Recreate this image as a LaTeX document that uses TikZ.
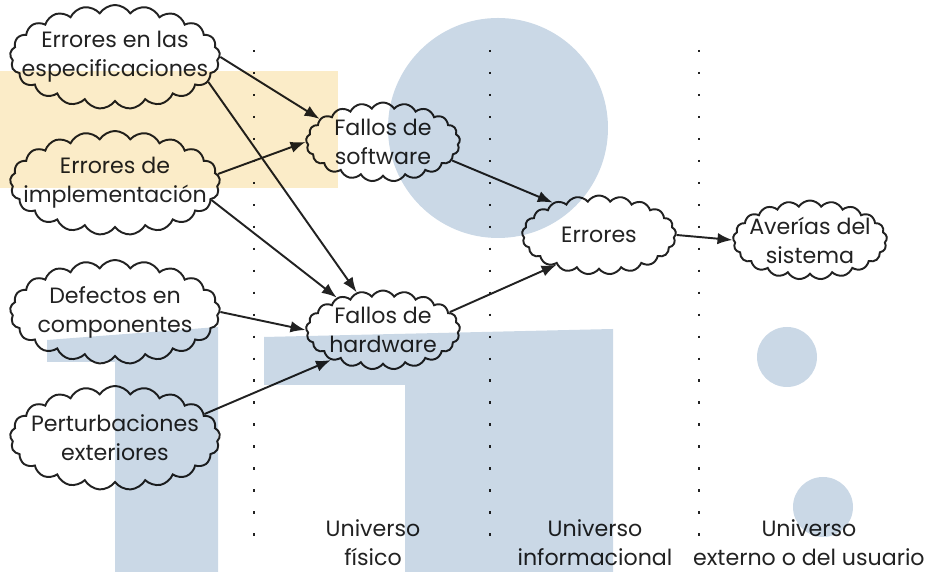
\documentclass[tikz,border=0pt]{standalone}
\usepackage{fontspec}
\setmainfont{Poppins}
\usetikzlibrary{shapes.symbols,arrows.meta}
\definecolor{tinta}{HTML}{222222}
\definecolor{celeste}{RGB}{202,216,230}
\definecolor{crema}{RGB}{251,236,200}

\begin{document}
\begin{tikzpicture}[font=\fontsize{12.6}{16.5}\selectfont,text=tinta,
  nube/.style={cloud,cloud puffs=21,cloud puff arc=115,cloud ignores aspect,
    draw=tinta,line width=1.1pt,fill=white,align=center,
    inner xsep=-14pt,inner ysep=-6pt},
  grande/.style={nube,minimum width=4.2cm,minimum height=2.08cm},
  chica/.style={nube,minimum width=3.08cm,minimum height=1.58cm},
  flecha/.style={-{Latex[length=8.5pt,width=6.5pt]},draw=tinta,line width=1.1pt},
  frontera/.style={tinta,line width=1.4pt,dash pattern=on 1.4pt off 11.1pt}]
  \useasboundingbox (0,0) rectangle (18.52,11.44);

  \draw[frontera] (5.08,10.44) -- (5.08,0.54);
  \draw[frontera] (9.80,10.44) -- (9.80,0.54);
  \draw[frontera] (13.98,10.44) -- (13.98,0.54);

  \node[grande] (espec) at (2.30,10.30) {Errores en las\\especificaciones};
  \node[grande] (implem) at (2.30,7.78) {Errores de\\implementación};
  \node[grande] (defect) at (2.30,5.20) {Defectos en\\componentes};
  \node[grande] (perturb) at (2.30,2.68) {Perturbaciones\\exteriores};
  \node[chica] (soft) at (7.66,8.60) {Fallos de\\software};
  \node[chica] (hard) at (7.66,4.84) {Fallos de\\hardware};
  \node[chica] (errores) at (11.98,6.74) {Errores};
  \node[chica] (averias) at (16.20,6.64) {Averías del\\sistema};

  \draw[flecha] (espec.east) -- (soft.160);
  \draw[flecha] (espec.-15) -- (hard.125);
  \draw[flecha] (implem.5) -- (soft.west);
  \draw[flecha] (implem.-10) -- (hard.145);
  \draw[flecha] (defect.east) -- (hard.west);
  \draw[flecha] (perturb.15) -- (hard.210);
  \draw[flecha] (soft.-15) -- (errores.145);
  \draw[flecha] (hard.15) -- (errores.215);
  \draw[flecha] (errores.east) -- (averias.west);

  \node[align=center] (fisico) at (7.46,0.58) {Universo\\físico};
  \node[align=center] (inform) at (11.90,0.58) {Universo\\informacional};
  \node[align=center,anchor=east,inner xsep=0pt] (externo) at (18.50,0.58)
    {Universo\\externo o del usuario};

  \begin{scope}[blend mode=multiply]
    \fill[crema] (0,10.02) rectangle (6.76,7.68);
    \fill[celeste] (9.96,8.88) circle (2.2);
    \fill[celeste] (0.94,4.64) -- (4.36,4.90) -- (4.36,0) -- (2.30,0)
      -- (2.30,4.20) -- (0.94,4.20) -- cycle;
    \fill[celeste] (5.28,4.70) -- (12.26,4.86) -- (12.26,0) -- (8.10,0)
      -- (8.10,3.74) -- (5.28,3.74) -- cycle;
    \fill[celeste] (15.74,4.30) circle (0.6);
    \fill[celeste] (16.46,1.30) circle (0.6);
  \end{scope}
\end{tikzpicture}
\end{document}
